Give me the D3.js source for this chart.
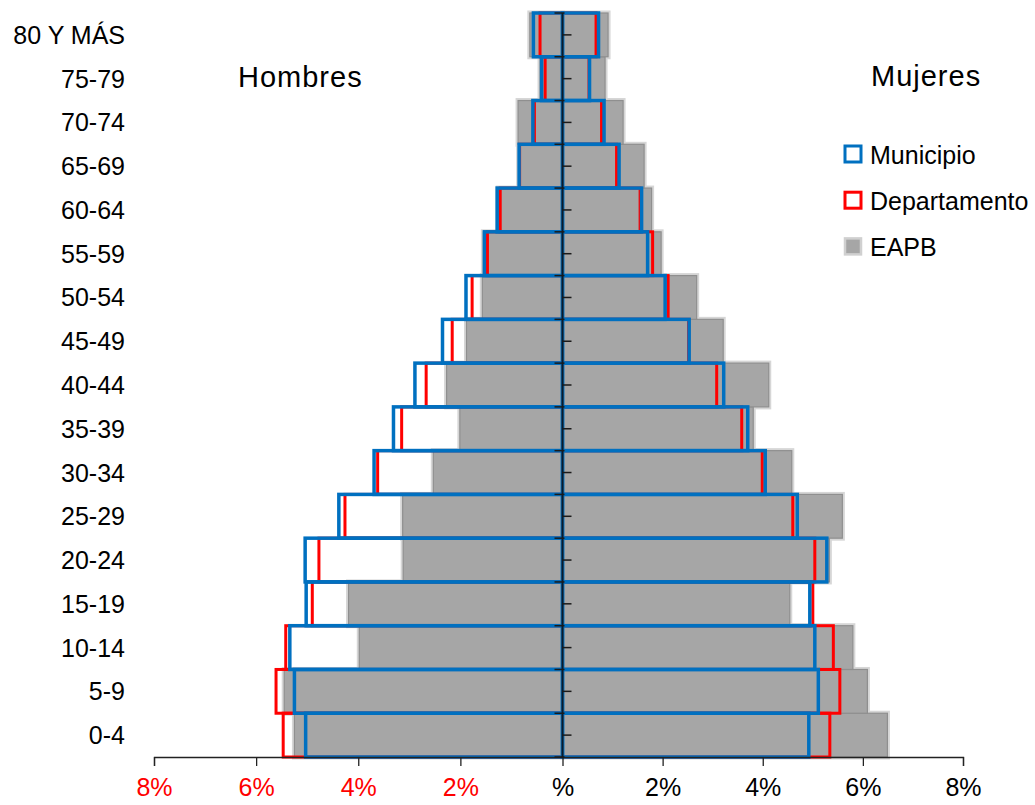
<!DOCTYPE html>
<html>
<head>
<meta charset="utf-8">
<script src="https://cdn.jsdelivr.net/npm/d3@7"></script>
<style>
    body { margin: 0; background: #fff; }
    text { font-family: "Liberation Sans", Arial, sans-serif; }
</style>
</head>
<body>
<div id="chart"></div>
<script>
// age groups, bottom to top
var ages = ["0-4", "5-9", "10-14", "15-19", "20-24", "25-29", "30-34", "35-39", "40-44",
    "45-49", "50-54", "55-59", "60-64", "65-69", "70-74", "75-79", "80 Y MÁS"];

var municipioH = [5.03, 5.25, 5.34, 5.02, 5.04, 4.38, 3.69, 3.31, 2.89, 2.35, 1.89, 1.53, 1.28, 0.85, 0.58, 0.41, 0.57];
var departamentoH = [5.47, 5.61, 5.42, 4.90, 4.77, 4.26, 3.62, 3.15, 2.67, 2.16, 1.77, 1.47, 1.22, 0.84, 0.55, 0.34, 0.44];
var eapbH = [5.25, 5.45, 3.98, 4.19, 3.12, 3.13, 2.53, 2.01, 2.27, 1.88, 1.57, 1.55, 1.26, 0.86, 0.87, 0.44, 0.64];

var municipioM = [4.92, 5.11, 5.04, 4.94, 5.28, 4.69, 4.05, 3.70, 3.22, 2.53, 2.05, 1.70, 1.58, 1.13, 0.83, 0.54, 0.72];
var departamentoM = [5.34, 5.54, 5.41, 5.00, 5.04, 4.60, 3.99, 3.58, 3.08, 2.52, 2.11, 1.80, 1.55, 1.08, 0.78, 0.53, 0.67];
var eapbM = [6.49, 6.09, 5.80, 4.54, 5.33, 5.59, 4.58, 3.81, 4.12, 3.21, 2.68, 1.97, 1.78, 1.63, 1.21, 0.85, 0.91];

var xTicks = [-8, -6, -4, -2, 0, 2, 4, 6, 8];
var legendLabels = ["Municipio", "Departamento", "EAPB"];

var width = 1035,
    height = 805;

var svg = d3.select("#chart")
    .append("svg")
    .attr("width", width)
    .attr("height", height);

var x = d3.scaleLinear()
    .domain([-8, 0, 8])
    .range([154, 562.5, 963]);

var y = d3.scaleBand()
    .domain(ages.slice().reverse())
    .range([13, 757])
    .padding(0);

function rows(men, women) {
    var out = [];
    ages.forEach(function (a, i) {
        out.push({ age: a, v: -men[i] });
        out.push({ age: a, v: women[i] });
    });
    return out;
}

function rectX(d) { return Math.min(x(0), x(d.v)); }
function rectW(d) { return Math.abs(x(d.v) - x(0)); }

var eapb = rows(eapbH, eapbM);

// EAPB: soft halo first, then grey fill
svg.append("g").selectAll("rect")
    .data(eapb)
    .join("rect")
    .attr("x", rectX)
    .attr("y", function (d) { return y(d.age); })
    .attr("width", rectW)
    .attr("height", y.bandwidth())
    .attr("fill", "none")
    .attr("stroke", "#d6d6d6")
    .attr("stroke-width", 5);

svg.append("g").selectAll("rect")
    .data(eapb)
    .join("rect")
    .attr("x", rectX)
    .attr("y", function (d) { return y(d.age); })
    .attr("width", rectW)
    .attr("height", y.bandwidth())
    .attr("fill", "#a6a6a6")
    .attr("stroke", "#8f8f8f")
    .attr("stroke-width", 1.2);

svg.append("g").selectAll("rect")
    .data(rows(departamentoH, departamentoM))
    .join("rect")
    .attr("x", rectX)
    .attr("y", function (d) { return y(d.age); })
    .attr("width", rectW)
    .attr("height", y.bandwidth())
    .attr("fill", "none")
    .attr("stroke", "#ff0000")
    .attr("stroke-width", 3);

svg.append("g").selectAll("rect")
    .data(rows(municipioH, municipioM))
    .join("rect")
    .attr("x", rectX)
    .attr("y", function (d) { return y(d.age); })
    .attr("width", rectW)
    .attr("height", y.bandwidth())
    .attr("fill", "none")
    .attr("stroke", "#0070c0")
    .attr("stroke-width", 3.5);

// x axis
var xAxis = svg.append("g")
    .attr("transform", "translate(0,757)")
    .call(d3.axisBottom(x)
        .tickValues(xTicks)
        .tickSize(9)
        .tickPadding(12)
        .tickFormat(function (d) { return d === 0 ? "%" : Math.abs(d) + "%"; }));

xAxis.select(".domain").attr("stroke", "#222").attr("stroke-width", 1.3);
xAxis.selectAll(".tick line").attr("stroke", "#222").attr("stroke-width", 1.3);
xAxis.selectAll(".tick text")
    .attr("font-size", 25)
    .attr("font-family", "'Liberation Sans', Arial, sans-serif")
    .attr("fill", function (d) { return d < 0 ? "#ff0000" : "#000"; });

// central vertical axis
var centre = svg.append("g").attr("transform", "translate(" + x(0) + ",0)");

centre.append("line")
    .attr("y1", 13)
    .attr("y2", 757)
    .attr("stroke", "#0d1b2a")
    .attr("stroke-width", 2);

centre.selectAll(".major")
    .data(ages.concat(["top"]))
    .join("line")
    .attr("class", "major")
    .attr("x1", -8)
    .attr("x2", 2)
    .attr("y1", function (d) { return d === "top" ? 13 : y(d) + y.bandwidth(); })
    .attr("y2", function (d) { return d === "top" ? 13 : y(d) + y.bandwidth(); })
    .attr("stroke", "#1a1a1a")
    .attr("stroke-width", 1.5);

centre.selectAll(".minor")
    .data(ages)
    .join("line")
    .attr("class", "minor")
    .attr("x1", 0)
    .attr("x2", 9)
    .attr("y1", function (d) { return y(d) + y.bandwidth() / 2; })
    .attr("y2", function (d) { return y(d) + y.bandwidth() / 2; })
    .attr("stroke", "#1a1a1a")
    .attr("stroke-width", 1.5);

// age labels
svg.append("g").selectAll("text")
    .data(ages)
    .join("text")
    .attr("x", 125)
    .attr("y", function (d) { return y(d) + y.bandwidth() / 2 + 9; })
    .attr("text-anchor", "end")
    .attr("font-size", 25)
    .attr("fill", "#000")
    .text(function (d) { return d; });

svg.append("text")
    .attr("x", 238)
    .attr("y", 87)
    .attr("font-size", 29)
    .attr("letter-spacing", "1px")
    .text("Hombres");

svg.append("text")
    .attr("x", 871)
    .attr("y", 86)
    .attr("font-size", 29)
    .attr("letter-spacing", "1px")
    .text("Mujeres");

// legend
var legendStyle = [
    { fill: "none", stroke: "#0070c0", sw: 3 },
    { fill: "none", stroke: "#ff0000", sw: 3 },
    { fill: "#a6a6a6", stroke: "#d0d0d0", sw: 2.5 }
];

var legend = svg.append("g").selectAll("g")
    .data(legendLabels)
    .join("g")
    .attr("transform", function (d, i) { return "translate(845," + (154 + i * 46.2) + ")"; });

legend.append("rect")
    .attr("x", 0)
    .attr("y", -8)
    .attr("width", 16)
    .attr("height", 16)
    .attr("fill", function (d, i) { return legendStyle[i].fill; })
    .attr("stroke", function (d, i) { return legendStyle[i].stroke; })
    .attr("stroke-width", function (d, i) { return legendStyle[i].sw; });

legend.append("text")
    .attr("x", 25)
    .attr("y", 9.5)
    .attr("font-size", 25)
    .text(function (d) { return d; });
</script>
</body>
</html>
